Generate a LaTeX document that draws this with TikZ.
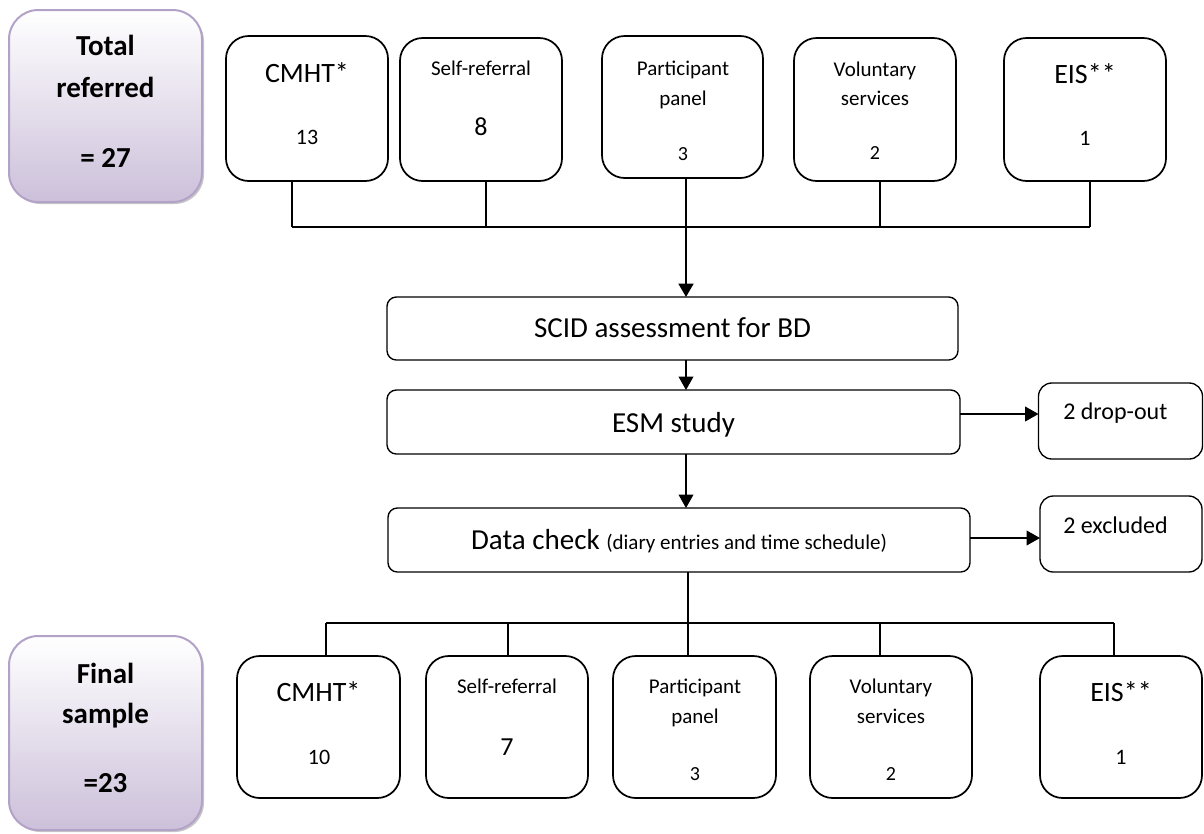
\documentclass[tikz,border=0pt]{standalone}
\usepackage{fontspec}
\setmainfont{Carlito}
\usetikzlibrary{arrows.meta,shadows}
\definecolor{lavB}{HTML}{B3A2C7}
\definecolor{lavF}{HTML}{CCC0DA}
\begin{document}
\begin{tikzpicture}[x=0.75pt,y=-0.75pt,
  sz/.style n args={2}{minimum width=#1*0.75pt, minimum height=#2*0.75pt},
  basebox/.style={draw=black, inner sep=0pt, outer sep=0pt},
  srcbox/.style={basebox, line width=1.3pt, rounded corners=17pt},
  midbox/.style={basebox, line width=1pt, rounded corners=7pt},
  sidebox/.style={basebox, line width=1pt, rounded corners=10pt},
  sumbox/.style={draw=lavB, line width=1.5pt, inner sep=0pt, outer sep=0pt, rounded corners=22pt,
     top color=white, bottom color=lavF,
     drop shadow={shadow xshift=1.5pt, shadow yshift=-1.5pt, fill=gray!55, opacity=0.8}},
  txt/.style={inner sep=0pt, anchor=base},
  conn/.style={line width=1.1pt},
  thick conn/.style={line width=2pt},
  arr/.style={-{Triangle[length=10pt,width=11pt]}},
  fBig/.style={font=\fontsize{21}{25}\selectfont},
  fMid/.style={font=\fontsize{15.75}{19}\selectfont},
  fHead/.style={font=\fontsize{21.75}{26}\selectfont},
  fSide/.style={font=\fontsize{18}{22}\selectfont},
  fSum/.style={font=\fontsize{21.75}{26}\selectfont\bfseries},
  fNumA/.style={font=\fontsize{16.5}{20}\selectfont},
  fNumB/.style={font=\fontsize{19.5}{23}\selectfont},
  fNumC/.style={font=\fontsize{15}{18}\selectfont}]
\useasboundingbox (0,0) rectangle (1204,833);

% summary boxes
\node[sumbox, sz={193}{192}] (tot) at (105.5,106) {};
\node[sumbox, sz={193}{194}] (fin) at (105.5,733) {};
\node[txt, fSum] (totA) at (105.5,55) {Total};
\node[txt, fSum] (totB) at (105.5,97) {referred};
\node[txt, fSum] (totC) at (105.5,167) {= 27};
\node[txt, fSum] (finA) at (105.5,683) {Final};
\node[txt, fSum] (finB) at (105.5,723) {sample};
\node[txt, fSum] (finC) at (105.5,792) {=23};

% top source boxes
\node[srcbox, sz={162}{145}] (tcm) at (307,108.5) {};
\node[srcbox, sz={162}{143}] (tsr) at (481,109.5) {};
\node[srcbox, sz={161}{142}] (tpp) at (682.5,107) {};
\node[srcbox, sz={162}{143}] (tvs) at (875,109.5) {};
\node[srcbox, sz={162}{143}] (tei) at (1085,109.5) {};
\node[txt, fBig] (tcmA) at (307,82) {CMHT*};
\node[txt, fNumA] (tcmB) at (307,144) {13};
\node[txt, fMid] (tsrA) at (481,75) {Self-referral};
\node[txt, fNumB] (tsrB) at (481,135) {8};
\node[txt, fMid] (tppA) at (683,75) {Participant};
\node[txt, fMid] (tppB) at (683,105) {panel};
\node[txt, fNumC] (tppC) at (683,160) {3};
\node[txt, fMid] (tvsA) at (875,76) {Voluntary};
\node[txt, fMid] (tvsB) at (875,105) {services};
\node[txt, fNumC] (tvsC) at (875,159) {2};
\node[txt, fBig] (teiA) at (1085,83) {EIS**};
\node[txt, fNumA] (teiB) at (1085,145) {1};

% middle boxes
\node[midbox, sz={571}{63}] (scid) at (672.5,328.5) {};
\node[midbox, sz={573}{64}] (esm) at (673.5,422) {};
\node[midbox, sz={582}{64}] (dc) at (679,540) {};
\node[sidebox, sz={164}{76}] (drop) at (1120.5,421) {};
\node[sidebox, sz={162}{76}] (excl) at (1121,534) {};
\node[txt, fHead] (scidT) at (672.5,337) {SCID assessment for BD};
\node[txt, fHead] (esmT) at (673.5,432) {ESM study};
\node[txt, fHead] (dcT) at (679,549) {Data check {\fontsize{15.75}{19}\selectfont(diary entries and time schedule)}};
\node[txt, fSide, anchor=base west] (dropT) at (1063,419) {2 drop-out};
\node[txt, fSide, anchor=base west] (exclT) at (1063,533) {2 excluded};

% bottom boxes
\node[srcbox, sz={163}{142}] (bcm) at (318.5,727) {};
\node[srcbox, sz={162}{142}] (bsr) at (507,727) {};
\node[srcbox, sz={163}{142}] (bpp) at (694.5,727) {};
\node[srcbox, sz={162}{142}] (bvs) at (891,727) {};
\node[srcbox, sz={162}{142}] (bei) at (1121,727) {};
\node[txt, fBig] (bcmA) at (318.5,701) {CMHT*};
\node[txt, fNumA] (bcmB) at (319,764) {10};
\node[txt, fMid] (bsrA) at (507,693) {Self-referral};
\node[txt, fNumB] (bsrB) at (507,755) {7};
\node[txt, fMid] (bppA) at (695,693) {Participant};
\node[txt, fMid] (bppB) at (695,723) {panel};
\node[txt, fNumC] (bppC) at (695,780) {3};
\node[txt, fMid] (bvsA) at (891,693) {Voluntary};
\node[txt, fMid] (bvsB) at (891,723) {services};
\node[txt, fNumC] (bvsC) at (891,780) {2};
\node[txt, fBig] (beiA) at (1121,701) {EIS**};
\node[txt, fNumA] (beiB) at (1121,764) {1};

% top bus
\coordinate (ta) at (292,227);
\coordinate (tb) at (486,227);
\coordinate (tc) at (686,227);
\coordinate (td) at (880,227);
\coordinate (te) at (1090,227);
\draw[conn] (ta) -- (te);
\draw[conn] (ta |- tcm.south) -- (ta);
\draw[conn] (tb |- tsr.south) -- (tb);
\draw[conn] (td |- tvs.south) -- (td);
\draw[conn] (te |- tei.south) -- (te);
\draw[conn] (tc |- tpp.south) -- (tc);
\draw[thick conn, arr] (tc) -- (tc |- scid.north);

% middle arrows
\draw[conn, arr] (tc |- scid.south) -- (tc |- esm.north);
\draw[conn, arr] (tc |- esm.south) -- (tc |- dc.north);
\draw[conn, arr] (esm.east |- 0,414) -- (drop.west |- 0,414);
\draw[conn, arr] (dc.east |- 0,538) -- (excl.west |- 0,538);

% bottom bus
\coordinate (ba) at (326,623);
\coordinate (bb) at (508,623);
\coordinate (bc) at (688,623);
\coordinate (bd) at (880,623);
\coordinate (be) at (1114,623);
\draw[conn] (ba) -- (be);
\draw[conn] (bc |- dc.south) -- (bc |- bpp.north);
\draw[conn] (ba) -- (ba |- bcm.north);
\draw[conn] (bb) -- (bb |- bsr.north);
\draw[conn] (bd) -- (bd |- bvs.north);
\draw[conn] (be) -- (be |- bei.north);
\end{tikzpicture}
\end{document}
